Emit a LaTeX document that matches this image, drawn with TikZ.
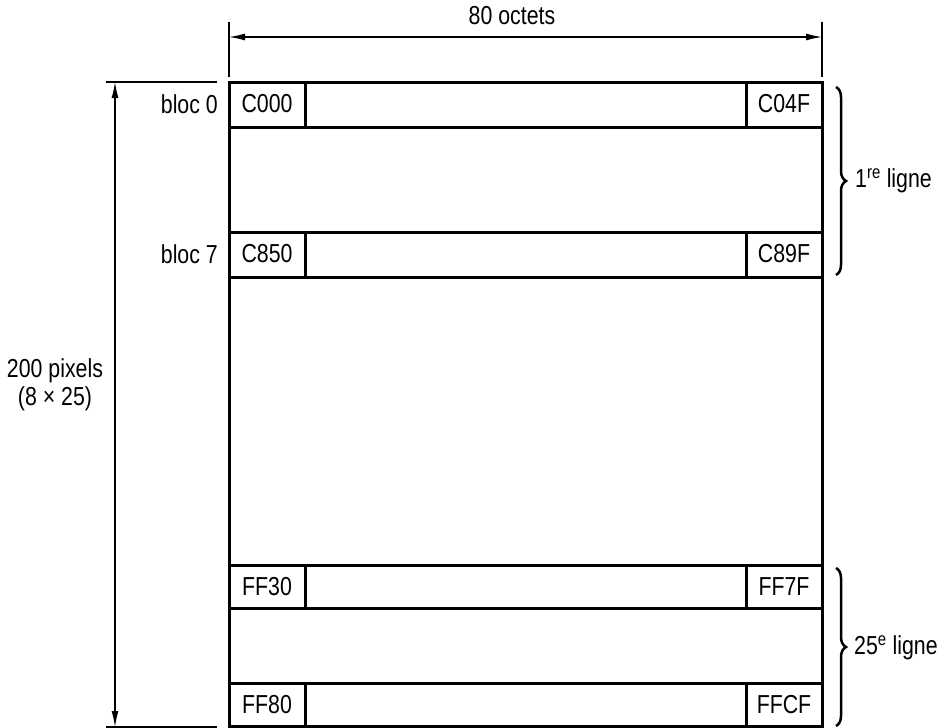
\documentclass[tikz,border=0pt]{standalone}
\usepackage{fontspec}
\setmainfont{Liberation Sans}[FakeStretch=0.82]
\usetikzlibrary{arrows.meta,decorations.pathreplacing}
\begin{document}
\begin{tikzpicture}[x=1pt,y=-1pt,
    every node/.style={font=\fontsize{26}{28}\selectfont, inner sep=0pt},
    box/.style={line width=3pt},
    dim/.style={line width=1.3pt},
    dimarrow/.style={dim, {Latex[length=16pt,width=7pt]}-{Latex[length=16pt,width=7pt]}},
    accolade/.style={line width=2.5pt, decorate, decoration={brace, amplitude=10pt}}]
    \useasboundingbox (0,0) rectangle (943,728);

    % Outer frame of the screen memory
    \draw[box] (229,82) rectangle (822,726);

    % bloc 0
    \draw[box] (229,82) rectangle (822,127);
    \draw[box] (305,82) -- (305,127);
    \draw[box] (746,82) -- (746,127);
    \node (c000) at (267,104) {C000};
    \node (c04f) at (784,104) {C04F};
    \node[anchor=east] (bloc0) at (218,104) {bloc 0};

    % bloc 7
    \draw[box] (229,232) rectangle (822,277);
    \draw[box] (305,232) -- (305,277);
    \draw[box] (746,232) -- (746,277);
    \node (c850) at (267,254) {C850};
    \node (c89f) at (784,254) {C89F};
    \node[anchor=east] (bloc7) at (218,254) {bloc 7};

    % 25e ligne, first block
    \draw[box] (229,565) rectangle (822,608);
    \draw[box] (305,565) -- (305,608);
    \draw[box] (746,565) -- (746,608);
    \node (ff30) at (267,587) {FF30};
    \node (ff7f) at (784,587) {FF7F};

    % 25e ligne, last block
    \draw[box] (229,683) rectangle (822,726);
    \draw[box] (305,683) -- (305,726);
    \draw[box] (746,683) -- (746,726);
    \node (ff80) at (267,705) {FF80};
    \node (ffcf) at (784,705) {FFCF};

    % Width of a line
    \coordinate (wl) at (229,37);
    \coordinate (wr) at (822,37);
    \draw[dim] (229,22) -- (229,77);
    \draw[dim] (822,22) -- (822,77);
    \draw[dimarrow] (wl) -- (wr);
    \node (octets) at (512,16) {80 octets};

    % Height of the screen
    \coordinate (ht) at (115,82);
    \coordinate (hb) at (115,727);
    \draw[dim] (106,82) -- (217,82);
    \draw[dim] (106,727) -- (217,727);
    \draw[dimarrow] (ht) -- (hb);
    \node[align=center] (pixels) at (55,385) {200 pixels\\(8 × 25)};

    % Braces for the text lines
    \coordinate (b1t) at (836,87);
    \coordinate (b1b) at (836,275);
    \draw[accolade] (b1t) -- (b1b);
    \node[anchor=west] (ligne1) at (855,181) {1\textsuperscript{re} ligne};
    \coordinate (b2t) at (836,568);
    \coordinate (b2b) at (836,726);
    \draw[accolade] (b2t) -- (b2b);
    \node[anchor=west] (ligne25) at (854,648) {25\textsuperscript{e} ligne};
\end{tikzpicture}
\end{document}
